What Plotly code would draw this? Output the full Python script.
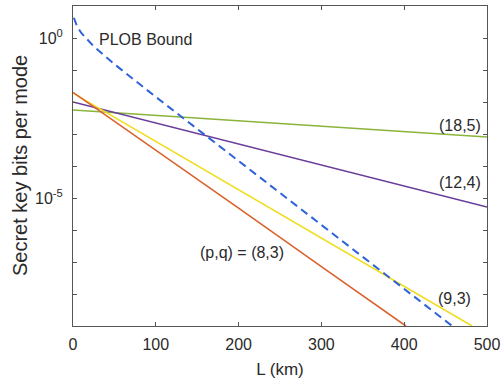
import plotly.graph_objects as go

# distances (km)
L_plob = [1, 5, 10, 25, 50, 100, 200, 300, 400, 460]
plob = [4.3, 2.28, 1.44, 0.55, 0.152, 1.44e-2, 1.44e-4, 1.44e-6, 1.44e-8, 9.1e-10]

L_18_5 = [0, 100, 200, 300, 400, 500]
k_18_5 = [5.6e-3, 3.8e-3, 2.6e-3, 1.8e-3, 1.2e-3, 8.1e-4]

L_12_4 = [0, 100, 200, 300, 400, 500]
k_12_4 = [1.0e-2, 2.2e-3, 4.9e-4, 1.07e-4, 2.4e-5, 5.2e-6]

L_9_3 = [0, 100, 200, 300, 400, 482]
k_9_3 = [1.9e-2, 5.9e-4, 1.8e-5, 5.6e-7, 1.7e-8, 1.0e-9]

L_8_3 = [0, 100, 200, 300, 402]
k_8_3 = [2.0e-2, 3.2e-4, 4.8e-6, 7.2e-8, 1.0e-9]

x_ticks = [0, 100, 200, 300, 400, 500]
y_tickvals = [10.0 ** e for e in range(-9, 2)]
y_ticktext = ["10<sup>0</sup>" if e == 0 else ("10<sup>-5</sup>" if e == -5 else "") for e in range(-9, 2)]

FONT = "Liberation Sans, Arial, sans-serif"
TXT = "#2a2a2a"

fig = go.Figure()
fig.add_trace(go.Scatter(x=L_18_5, y=k_18_5, mode="lines", line=dict(color="#8ab43a", width=1.6)))
fig.add_trace(go.Scatter(x=L_12_4, y=k_12_4, mode="lines", line=dict(color="#6a3d9a", width=1.6)))
fig.add_trace(go.Scatter(x=L_9_3, y=k_9_3, mode="lines", line=dict(color="#f0dc1e", width=1.6)))
fig.add_trace(go.Scatter(x=L_8_3, y=k_8_3, mode="lines", line=dict(color="#d9622b", width=1.6)))
fig.add_trace(go.Scatter(x=L_plob, y=plob, mode="lines", line=dict(color="#2e62d9", width=2, dash="8px,5px")))

anns = [
    dict(x=29, y=-0.06, text="PLOB Bound", xanchor="left"),
    dict(x=151, y=-6.69, text="(p,q) = (8,3)", xanchor="left"),
    dict(x=495, y=-2.72, text="(18,5)", xanchor="right"),
    dict(x=495, y=-4.53, text="(12,4)", xanchor="right"),
    dict(x=483, y=-8.125, text="(9,3)", xanchor="right"),
]
for a in anns:
    fig.add_annotation(x=a["x"], y=a["y"], text=a["text"], xanchor=a["xanchor"], yanchor="middle",
                       showarrow=False, font=dict(family=FONT, size=16, color=TXT))

# y-axis title placed as a rotated annotation
fig.add_annotation(xref="paper", yref="paper", x=(20 - 73) / 414, y=0.5, text="Secret key bits per mode",
                   textangle=-90, showarrow=False, xanchor="center", yanchor="middle",
                   font=dict(family=FONT, size=20, color=TXT))

axis_common = dict(showline=True, linecolor="#555", linewidth=1, mirror="ticks", ticks="inside",
                   ticklen=4, tickcolor="#555", showgrid=False, zeroline=False,
                   tickfont=dict(family=FONT, size=16, color=TXT))

fig.update_xaxes(range=[0, 500], tickvals=x_ticks, ticklabelstandoff=4,
                 title=dict(text="L (km)", standoff=10, font=dict(family=FONT, size=17, color=TXT)),
                 **axis_common)
fig.update_yaxes(type="log", range=[-9, 1], tickvals=y_tickvals, ticktext=y_ticktext,
                 ticklabelstandoff=6, **axis_common)

fig.update_layout(width=503, height=381, margin=dict(l=73, r=16, t=6, b=55, autoexpand=False),
                  plot_bgcolor="white", paper_bgcolor="white", showlegend=False)

fig.write_html("out.html")
